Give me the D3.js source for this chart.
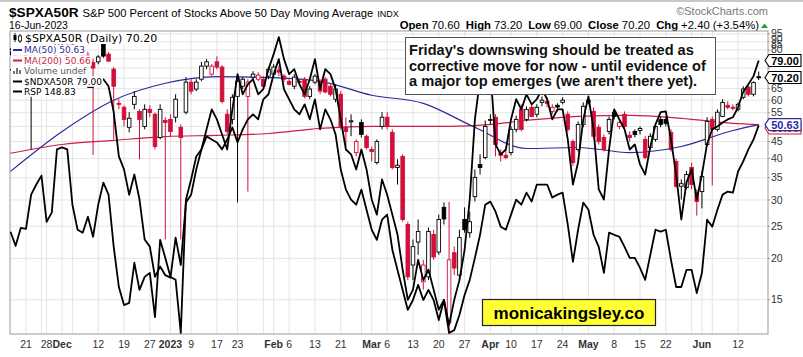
<!DOCTYPE html>
<html><head><meta charset="utf-8">
<script src="https://cdn.jsdelivr.net/npm/d3@7/dist/d3.min.js"></script>
<style>
body{margin:0;background:#fff;}
svg{display:block;font-family:Arial,"Liberation Sans",sans-serif;}
</style>
</head><body>
<svg id="chart" width="803" height="357"></svg>
<script>
// ---------------- DATA ----------------
const holidays = ["2022-11-24","2022-12-26","2023-01-02","2023-01-16","2023-02-20","2023-04-07","2023-05-29"];

const opens = [84,84,83,84,83,84,85,86,85,83,90,91,88,86,84,82,78,78.3,88.6,82.6,74.4,58.7,57.1,49.7,58.3,55.5,50.0,56.3,54.4,46.3,52.1,52.5,53.3,49.7,55.2,68.0,64.8,69.4,76.0,71.9,78.3,75.5,54.4,52.5,61.6,66.1,61.6,70.4,69.4,69.4,70.9,71.9,74.0,70.9,68.4,66.1,68.4,69.4,61.6,68.0,68.4,69.4,66.1,60.4,62.5,49.7,51.6,41.7,51.4,46.7,42.6,38.9,50.0,53.3,48.0,37.6,40.6,25.3,19.1,22.4,17.0,17.6,23.6,20.9,28.5,12.8,20.8,17.8,26.2,23.9,30.7,38.4,40.3,52.2,53.3,41.5,40.9,41.7,49.0,56.3,52.5,57.1,54.4,59.1,59.5,55.5,57.9,59.1,54.4,45.0,42.6,50.7,59.1,55.5,49.7,46.3,48.3,55.2,50.0,54.4,47.0,48.3,48.6,45.7,43.2,45.7,52.5,52.5,48.0,39.2,33.0,32.7,37.6,31.6,31.8,44.1,52.5,49.0,53.6,57.9,57.1,56.3,61.2,65.7,62.5,70.6];
const highs = [86,85,85,85,85,86,87,88,87,91,92,92,89,88,85,84,80,82,89.5,83.8,75.5,60.4,57.9,55.2,63.9,56.3,58.3,57.9,55.1,58.3,53.3,54.4,62.5,50.7,70.4,69.4,69.4,78.3,79.8,77.1,81.3,76.5,56.3,62.5,69.4,70.4,69.4,73.4,72.9,70.9,75.5,77.1,76.0,71.9,69.4,71.9,69.4,70.4,66.1,71.9,69.4,70.4,67.0,67.0,63.9,53.3,54.4,45.7,52.5,47.3,43.5,45.7,55.2,55.2,49.0,39.8,41.2,25.8,22.8,26.2,19.8,24.8,24.4,27.1,29.5,29.6,21.7,24.4,28.5,27.7,37.1,41.2,52.1,54.4,54.4,42.6,42.6,50.0,53.9,58.3,57.5,58.3,58.3,61.6,61.2,58.3,58.7,61.2,55.5,45.7,51.8,59.1,61.2,57.1,50.7,47.3,53.6,56.3,52.5,55.5,48.3,49.0,50.0,46.7,47.7,51.1,53.6,53.6,49.0,40.0,34.6,36.7,38.9,32.3,36.7,53.3,53.6,56.3,60.4,59.5,58.3,59.1,66.1,66.5,68.4,73.2];
const lows = [82,81,81,80,42.6,82,83,84,82,83,88,88,85,83,81,79,41,77,80.5,78.3,45.7,56.3,50.0,48.0,56.3,39.8,49.0,53.3,42.6,45.7,22.8,46.7,51.4,22.8,54.4,62.5,63.9,68.4,74.4,70.9,74.4,58.7,47.3,50.7,29.5,64.8,31.8,68.4,68.4,64.8,69.4,70.4,70.9,68.0,66.5,64.8,66.5,60.8,60.4,67.0,62.5,63.0,61.6,59.1,49.0,43.5,46.7,40.6,46.3,42.6,39.2,38.4,49.0,49.0,37.1,33.4,25.8,17.2,17.2,20.5,16.1,17.2,19.8,20.5,25.3,11.9,17.8,17.2,23.9,23.1,29.7,35.8,39.8,50.7,40.6,39.2,39.8,40.9,48.0,48.3,51.8,53.3,53.3,57.5,57.1,54.4,55.5,58.3,48.0,38.0,42.0,49.7,58.3,45.7,44.1,42.0,47.3,52.5,49.0,49.0,45.0,46.3,47.3,39.8,42.6,45.0,49.7,50.0,42.0,32.7,30.1,32.3,32.3,26.9,28.3,43.5,33.2,48.3,53.3,56.3,55.9,55.5,60.4,61.6,61.6,69.0];
const closes = [85,82,84,81,84,85,86,85,83,90,91,89,86,84,82,80,75,81.0,81.5,78.7,66.1,58.3,52.5,52.9,61.6,52.5,56.3,55.1,43.5,56.3,51.4,48.3,60.4,46.3,68.0,63.9,68.0,76.0,78.3,76.0,75.5,59.5,48.3,61.2,68.4,69.4,68.0,71.9,71.4,66.1,74.4,75.5,72.9,69.4,67.0,70.4,68.0,61.6,64.8,70.9,63.9,63.5,62.5,64.8,50.0,48.3,52.0,45.0,47.3,43.2,42.0,45.0,53.3,50.0,37.6,38.2,26.2,17.6,21.7,24.1,19.1,24.1,20.2,26.2,26.3,19.8,18.7,23.1,24.4,25.8,35.1,37.6,50.0,52.5,44.1,40.9,40.3,49.0,52.5,49.0,56.3,53.6,57.1,60.0,58.7,57.1,57.2,60.0,49.0,38.9,50.7,57.5,60.0,46.7,45.0,42.6,52.5,53.6,51.4,50.0,46.3,47.3,49.3,40.3,46.7,50.0,50.7,51.1,42.6,33.0,33.6,35.8,33.4,29.7,35.3,51.8,49.0,55.2,59.1,57.1,56.7,58.3,64.8,62.5,67.8,70.2];

// Moving averages (read at selected sessions)
const ma50Index  = [0,10,20,30,40,50,60,70,80,90,100,110,120,130,140,145];
const ma50Values = [36.6,48.3,60.0,67.5,70.7,70.2,68.4,62.1,58.7,49.7,42.9,43.2,41.7,43.5,48.6,50.63];
const ma200Index  = [0,10,20,30,40,50,60,70,80,90,100,110,120,130,140,145];
const ma200Values = [41.5,44.1,45.4,46.6,47.0,47.6,49.3,50.0,50.0,50.3,52.1,53.6,54.0,52.9,51.1,50.66];

// $NDXA50R (same % axis)
const ndxValues = [74.4,71.9,75.5,73.4,77.1,78.7,79.8,76.5,77.6,82.6,84.3,80.9,74.4,71.9,69.4,65.7,65.7,69.4,69.4,66.1,55.2,40.6,37.1,31.1,35.8,30.1,22.8,21.7,17.6,18.9,17.8,17.5,23.1,19.1,29.5,31.1,37.1,42.6,49.0,56.3,52.5,47.3,42.6,56.3,71.9,62.5,67.0,69.4,62.5,64.8,74.4,82.6,93.0,79.8,71.9,74.4,67.0,62.5,69.4,79.8,64.8,74.4,71.9,64.8,52.5,42.6,41.2,37.1,42.6,37.1,30.1,27.1,34.6,31.1,27.1,23.6,18.5,15.0,16.1,19.8,17.2,18.5,16.1,14.0,15.0,12.6,15.0,17.2,21.2,30.1,52.5,69.4,
  91.7,74.4,44.1,41.2,42.6,52.5,60.4,56.3,62.5,58.3,60.4,64.8,60.4,52.5,56.3,56.3,45.7,33.4,39.0,52.5,61.6,49.0,32.3,30.1,42.6,56.3,52.5,49.0,42.6,44.1,38.4,35.8,43.5,50.7,55.2,55.5,45.7,35.8,26.2,33.9,37.1,30.1,35.8,44.4,49.0,50.0,51.4,52.5,53.3,57.1,63.6,67.0,70.9,79.0];

// RSP (price, own scale)
const rspValues = [142.29,141.42,142.53,142.47,144.57,145.19,145.74,142.90,143.46,147.35,147.47,147.35,143.95,142.41,142.23,143.21,141.98,143.95,145.31,144.57,141.36,138.89,137.78,137.91,140.38,138.71,139.51,139.76,137.04,141.79,140.68,139.51,139.33,136.06,144.26,145.50,146.91,147.35,148.15,147.96,147.78,147.35,147.96,148.70,147.78,148.58,149.20,149.51,149.20,150.43,150.74,151.97,152.90,151.05,150.43,149.81,149.51,150.12,149.20,150.43,148.58,149.81,149.20,148.27,146.11,144.88,144.26,143.95,144.88,143.64,142.41,141.79,143.03,143.34,141.18,139.94,138.71,137.48,138.09,139.02,138.09,138.71,138.09,136.86,138.09,136.06,136.24,137.17,138.40,139.33,140.68,142.10,
  143.95,144.14,143.52,142.60,142.41,143.34,144.26,143.95,144.69,144.14,145.19,145.19,145.19,144.39,144.57,144.69,142.72,140.44,142.41,144.08,143.64,142.10,141.36,139.76,142.23,142.10,141.98,141.36,140.68,140.68,140.07,139.33,140.87,142.41,142.29,142.41,140.56,138.89,138.89,139.94,139.94,138.52,139.76,143.03,142.60,143.64,144.57,144.76,144.69,145.99,146.61,147.35,147.96,148.83];

const yTickValues = [95,90,85,80,65,60,55,45,40,35,30,25,20,15];
const yGridValues = [15,20,25,30,35,40,45,50,55,60,65,70,75,80,85,90,95];
const xTickLabels = [
  ["2022-11-21","21"],["2022-11-28","28"],["2022-12-01","Dec"],["2022-12-12","12"],["2022-12-19","19"],
  ["2022-12-27","27"],["2023-01-03","2023"],["2023-01-09","9"],["2023-01-17","17"],["2023-01-23","23"],
  ["2023-02-01","Feb"],["2023-02-06","6"],["2023-02-13","13"],["2023-02-21","21"],["2023-03-01","Mar"],
  ["2023-03-06","6"],["2023-03-13","13"],["2023-03-20","20"],["2023-03-27","27"],["2023-04-03","Apr"],
  ["2023-04-10","10"],["2023-04-17","17"],["2023-04-24","24"],["2023-05-01","May"],["2023-05-08","8"],
  ["2023-05-15","15"],["2023-05-22","22"],["2023-06-01","Jun"],["2023-06-12","12"]];
const boldXLabels = ["Dec","2023","Feb","Mar","Apr","May","Jun"];

const titleSymbol = "$SPXA50R", titleName = "S&P 500 Percent of Stocks Above 50 Day Moving Average", titleExch = "INDX";
const chartDate = "16-Jun-2023";
const quote = [["Open","70.60"],["High","73.20"],["Low","69.00"],["Close","70.20"],["Chg","+2.40 (+3.54%)"]];
const legendRows = [
  {text:"$SPXA50R (Daily) 70.20", color:"#000", icon:"candle"},
  {text:"MA(50) 50.63", color:"#2b2b9c", icon:"line"},
  {text:"MA(200) 50.66", color:"#cc1f45", icon:"line"},
  {text:"Volume undef", color:"#555", icon:"bars"},
  {text:"$NDXA50R 79.00", color:"#000", icon:"line"},
  {text:"RSP 148.83", color:"#000", icon:"line"}];
const noteLines = ["Friday's downswing should be treated as","corrective move for now - until evidence of","a major top emerges (we aren't there yet)."];
const watermark = "monicakingsley.co";

// ---------------- BUILD ----------------
const dates = [];
for (let d = new Date(Date.UTC(2022,10,16)); d <= new Date(Date.UTC(2023,5,16)); d.setUTCDate(d.getUTCDate()+1)) {
  const wd = d.getUTCDay(), s = d.toISOString().slice(0,10);
  if (wd > 0 && wd < 6 && !holidays.includes(s)) dates.push(s);
}
const RED = "#d0103a", BLUE = "#2b2b9c", MARED = "#cc1f45";
const L = 10, R = 768, T = 31, B = 334;
const svg = d3.select("#chart");
const x = d3.scalePoint().domain(dates).range([10.5, 758.7]);
const y = d3.scaleLog().domain([11.83, 97]).range([B, T]);
const yRsp = d3.scaleLinear().domain([136, 154.63]).range([B, T]);

// header
svg.append("rect").attr("x",0).attr("y",0).attr("width",803).attr("height",2).attr("fill","#c8c8c8");
const h = svg.append("text").attr("x",9).attr("y",17);
h.append("tspan").attr("font-weight","bold").attr("font-size",13.6).text(titleSymbol);
h.append("tspan").attr("dx",4).attr("font-size",11.2).text(titleName);
h.append("tspan").attr("dx",4).attr("font-size",9).text(titleExch);
svg.append("text").attr("x",9).attr("y",29).attr("font-size",10.5).text(chartDate);
svg.append("text").attr("x",768).attr("y",15).attr("text-anchor","end").attr("font-size",11).attr("fill","#777").text("\u00A9StockCharts.com");
const q = svg.append("text").attr("x",759).attr("y",29).attr("text-anchor","end").attr("font-size",11.3);
quote.forEach((p,i)=>{
  q.append("tspan").attr("font-weight","bold").attr("dx", i? 6:0).text(p[0]);
  q.append("tspan").attr("dx",3).text(p[1]);
});
svg.append("path").attr("d","M761,28 l3.5,-4.5 l3.5,4.5 z").attr("fill","#2a9d2a");

// plot frame & grid
const plot = svg.append("g");
plot.append("rect").attr("x",L).attr("y",T).attr("width",R-L).attr("height",B-T).attr("fill","#fff");
plot.selectAll(".hg").data(yGridValues).join("line")
  .attr("x1",L).attr("x2",R).attr("y1",d=>y(d)).attr("y2",d=>y(d)).attr("stroke","#e4e4e4");
const gridDates = dates.filter((d,i)=> i>0 && (
  (new Date(d) - new Date(dates[i-1])) > 86400000*1.5 || d.slice(5,7)!==dates[i-1].slice(5,7)));
plot.selectAll(".vg").data(gridDates).join("line")
  .attr("x1",d=>x(d)).attr("x2",d=>x(d)).attr("y1",T).attr("y2",B).attr("stroke","#e4e4e4");
plot.append("rect").attr("x",L).attr("y",T).attr("width",R-L).attr("height",B-T).attr("fill","none").attr("stroke","#9a9a9a");

svg.append("defs").append("clipPath").attr("id","clip").append("rect").attr("x",L).attr("y",T).attr("width",R-L).attr("height",B-T);
const g = svg.append("g").attr("clip-path","url(#clip)");

// moving averages
const maLine = d3.line().curve(d3.curveMonotoneX);
g.append("path").attr("d", maLine(ma200Index.map((k,i)=>[x(dates[k]), y(ma200Values[i])])))
  .attr("fill","none").attr("stroke",MARED).attr("stroke-width",1.2);
g.append("path").attr("d", maLine(ma50Index.map((k,i)=>[x(dates[k]), y(ma50Values[i])])))
  .attr("fill","none").attr("stroke",BLUE).attr("stroke-width",1.2);

// candles
const candles = dates.map((d,i)=>({d,o:opens[i],h:highs[i],l:lows[i],c:closes[i],
  up: i===0 ? true : closes[i] >= closes[i-1]}));
const cg = g.selectAll(".cd").data(candles).join("g");
cg.append("line").attr("x1",c=>x(c.d)).attr("x2",c=>x(c.d)).attr("y1",c=>y(c.h)).attr("y2",c=>y(c.l))
  .attr("stroke",c=>c.up?"#000":RED).attr("stroke-width",1);
cg.append("rect").attr("x",c=>x(c.d)-1.8).attr("width",3.6)
  .attr("y",c=>y(Math.max(c.o,c.c)))
  .attr("height",c=>Math.max(1,Math.abs(y(c.o)-y(c.c))))
  .attr("fill",c=> c.c>c.o ? "#fff" : (c.up?"#000":RED))
  .attr("stroke",c=>c.up?"#000":RED).attr("stroke-width",0.9);

// overlay lines
g.append("path").datum(ndxValues).attr("d", d3.line().x((v,i)=>x(dates[i])).y(v=>y(v)))
  .attr("fill","none").attr("stroke","#000").attr("stroke-width",1.8).attr("stroke-linejoin","round");
g.append("path").datum(rspValues).attr("d", d3.line().x((v,i)=>x(dates[i])).y(v=>yRsp(v)))
  .attr("fill","none").attr("stroke","#000").attr("stroke-width",1.8).attr("stroke-linejoin","round");

// x axis labels
svg.selectAll(".xl").data(xTickLabels).join("text")
  .attr("x",d=>x(d[0])).attr("y",348).attr("text-anchor","middle")
  .attr("font-size",10.5).attr("fill","#333")
  .attr("font-weight",d=>boldXLabels.includes(d[1])?"bold":"normal").text(d=>d[1]);

// y tick labels: those above the top price box are pushed upward (stacked)
const topBoxEdge = y(ndxValues[ndxValues.length-1]) - 6;
const tickPos = new Map();
let prevTop = topBoxEdge;
yTickValues.filter(v=>v>79).sort((a,b)=>a-b).forEach(v=>{
  const p = Math.min(y(v), prevTop - 5.2);
  tickPos.set(v,p); prevTop = p;
});
yTickValues.filter(v=>v<=79).forEach(v=>tickPos.set(v,y(v)));
svg.selectAll(".yl").data(yTickValues).join("text").attr("x",771).attr("y",v=>tickPos.get(v)+3.6)
  .attr("font-size",10.5).attr("fill","#333").text(v=>v);
svg.selectAll(".yt").data(yGridValues).join("line").attr("x1",R).attr("x2",R+2).attr("y1",v=>y(v)).attr("y2",v=>y(v)).attr("stroke","#999");

// price boxes on right
const boxes = [
  {v:ma200Values[ma200Values.length-1], txt:"50.66", col:MARED, dy:3.5},
  {v:ma50Values[ma50Values.length-1], txt:"50.63", col:BLUE, dy:0},
  {v:ndxValues[ndxValues.length-1], txt:"79.00", col:"#000", dy:0},
  {v:closes[closes.length-1], txt:"70.20", col:"#000", dy:0}];
boxes.forEach(b=>{
  const cy = y(b.v) + b.dy;
  const gb = svg.append("g");
  gb.append("path").attr("d",`M765,${cy} L769,${cy-6} L801,${cy-6} L801,${cy+6} L769,${cy+6} Z`)
    .attr("fill","#fff").attr("stroke",b.col).attr("stroke-width",1.1);
  gb.append("text").attr("x",785).attr("y",cy+4).attr("text-anchor","middle").attr("font-size",11)
    .attr("font-weight","bold").attr("fill",b.col).text(b.txt);
});

// legend
const lg = svg.append("g").attr("font-family","'DejaVu Sans',Verdana,sans-serif");
const rowY = [38,50,60.5,71,81.5,91.5];
legendRows.forEach((r,i)=>{
  const fs = i===0 ? 11 : 9;
  const tx = i===0 ? 25 : 24;
  const row = lg.append("g");
  const bg = row.append("rect").attr("fill","#fff");
  const t = row.append("text").attr("x",tx).attr("y",rowY[i]+fs*0.36).attr("font-size",fs).attr("fill",r.color).text(r.text);
  const w = t.node().getComputedTextLength();
  bg.attr("x",11).attr("y",rowY[i]-(i===0?6:5.2)).attr("width",tx+w-10).attr("height",i===0?12:10.5);
  if (r.icon==="line") row.append("line").attr("x1",13).attr("x2",22).attr("y1",rowY[i]).attr("y2",rowY[i]).attr("stroke",r.color).attr("stroke-width",2);
  if (r.icon==="bars") [[13,3],[16,6],[19,4]].forEach(b=>row.append("rect").attr("x",b[0]).attr("y",rowY[i]+3-b[1]).attr("width",2).attr("height",b[1]).attr("fill","#777"));
  if (r.icon==="candle") {
    row.append("line").attr("x1",15).attr("x2",15).attr("y1",rowY[i]-5).attr("y2",rowY[i]+4).attr("stroke","#000");
    row.append("rect").attr("x",13.5).attr("y",rowY[i]-3).attr("width",3).attr("height",5).attr("fill","#000");
    row.append("line").attr("x1",20).attr("x2",20).attr("y1",rowY[i]-4).attr("y2",rowY[i]+5).attr("stroke","#000");
    row.append("rect").attr("x",18.5).attr("y",rowY[i]-2).attr("width",3).attr("height",5).attr("fill","#fff").attr("stroke","#000").attr("stroke-width",0.8);
  }
});

// annotation
const note = svg.append("g");
note.append("rect").attr("x",405.5).attr("y",37.5).attr("width",310).attr("height",57).attr("fill","#fff").attr("stroke","#555");
note.selectAll("text").data(noteLines).join("text").attr("x",409).attr("y",(d,i)=>55+i*15.5)
  .attr("font-size",14.6).attr("font-weight","bold").attr("fill","#111").text(d=>d);

// watermark
const wm = svg.append("g");
wm.append("rect").attr("x",482.5).attr("y",299.5).attr("width",173).attr("height",26).attr("fill","#ffff33").attr("stroke","#222").attr("stroke-width",1.2);
wm.append("text").attr("x",569).attr("y",318.5).attr("text-anchor","middle").attr("font-size",17).attr("font-weight","bold").attr("fill","#000").text(watermark);
</script>
</body></html>
